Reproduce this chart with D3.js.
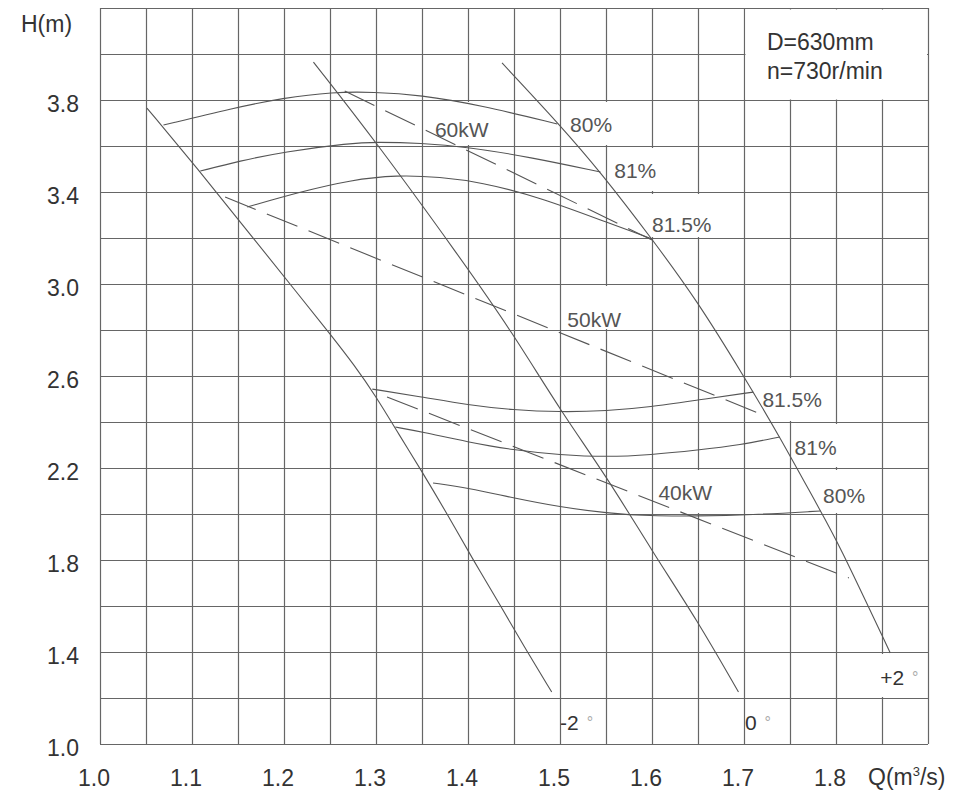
<!DOCTYPE html>
<html>
<head>
<meta charset="utf-8">
<script src="https://cdn.jsdelivr.net/npm/d3@7"></script>
<style>
  body { margin: 0; background: #fff; }
  text { font-family: "Liberation Sans", Arial, sans-serif; }
</style>
</head>
<body>
<svg id="chart" width="954" height="796"></svg>
<script>
// ---------------- data ----------------
const xTicks = [1.0, 1.1, 1.2, 1.3, 1.4, 1.5, 1.6, 1.7, 1.8];
const yTicks = [1.0, 1.4, 1.8, 2.2, 2.6, 3.0, 3.4, 3.8];
const xAxisTitle = "Q(m";
const yAxisTitle = "H(m)";
const noteLines = ["D=630mm", "n=730r/min"];

// blade-angle H-Q curves [Q, H]
const angleNames = ["-2", "0", "+2"];
const angleMinus2 = [[1.051,3.765],[1.109,3.487],[1.163,3.217],[1.217,2.948],[1.250,2.783],[1.277,2.644],[1.299,2.517],[1.326,2.339],[1.349,2.191],[1.378,1.996],[1.405,1.804],[1.435,1.604],[1.460,1.430],[1.491,1.226]];
const angleZero   = [[1.232,3.965],[1.301,3.613],[1.391,3.117],[1.448,2.791],[1.500,2.452],[1.551,2.161],[1.600,1.839],[1.649,1.539],[1.694,1.226]];
const anglePlus2  = [[1.437,3.961],[1.500,3.691],[1.544,3.487],[1.600,3.196],[1.650,2.922],[1.699,2.604],[1.739,2.335],[1.783,2.013],[1.801,1.887],[1.859,1.396]];
const angleLabelQ = [1.500, 1.701, 1.848];
const angleLabelH = [1.061, 1.061, 1.257];

// efficiency curves [Q, H]
const effNames = ["80%", "81%", "81.5%", "81.5%", "81%", "80%"];
const eff80Upper  = [[1.069,3.691],[1.145,3.765],[1.199,3.809],[1.253,3.835],[1.297,3.835],[1.348,3.822],[1.413,3.778],[1.497,3.696]];
const eff81Upper  = [[1.109,3.491],[1.152,3.535],[1.199,3.574],[1.272,3.613],[1.301,3.617],[1.348,3.613],[1.399,3.596],[1.467,3.552],[1.544,3.487]];
const eff815Upper = [[1.160,3.335],[1.217,3.400],[1.272,3.452],[1.323,3.474],[1.370,3.465],[1.413,3.443],[1.478,3.378],[1.558,3.257],[1.600,3.196]];
const eff815Lower = [[1.296,2.543],[1.350,2.509],[1.400,2.474],[1.449,2.452],[1.500,2.443],[1.551,2.448],[1.598,2.465],[1.650,2.496],[1.710,2.530]];
const eff81Lower  = [[1.321,2.378],[1.350,2.357],[1.400,2.313],[1.449,2.278],[1.500,2.257],[1.551,2.248],[1.598,2.257],[1.650,2.278],[1.696,2.300],[1.739,2.335]];
const eff80Lower  = [[1.362,2.135],[1.400,2.113],[1.449,2.070],[1.500,2.030],[1.551,2.004],[1.598,1.991],[1.649,1.991],[1.707,1.996],[1.783,2.013]];
const effLabelQ = [1.511, 1.559, 1.600, 1.720, 1.755, 1.786];
const effLabelH = [3.661, 3.461, 3.226, 2.465, 2.257, 2.048];

// shaft-power lines (dashed) [Q, H]
const powerNames = ["60kW", "50kW", "40kW"];
const power60 = [[1.266,3.839],[1.600,3.191]];
const power50 = [[1.136,3.378],[1.721,2.430]];
const power40 = [[1.312,2.509],[1.814,1.722]];
const powerLabelQ = [1.364, 1.508, 1.607];
const powerLabelH = [3.639, 2.813, 2.061];

// ---------------- drawing ----------------
const svg = d3.select("#chart");
const x = d3.scaleLinear().domain([1.0, 1.9]).range([100, 928]);
const y = d3.scaleLinear().domain([1.0, 4.2]).range([744, 8]);

const gridColor = "#666";
const curveColor = "#555";
const textColor = "#333";
const labelColor = "#555";

// grid
const gGrid = svg.append("g");
const vLines = d3.range(0, 19).map(i => 1.0 + i * 0.05);
const hLines = d3.range(0, 17).map(i => 1.0 + i * 0.2);
gGrid.selectAll("line.v").data(vLines).join("line")
  .attr("x1", d => Math.round(x(d)) + 0.5).attr("x2", d => Math.round(x(d)) + 0.5)
  .attr("y1", y(4.2)).attr("y2", y(1.0))
  .attr("stroke", gridColor).attr("stroke-width", 1.2);
gGrid.selectAll("line.h").data(hLines).join("line")
  .attr("x1", x(1.0)).attr("x2", x(1.9))
  .attr("y1", d => Math.round(y(d)) + 0.5).attr("y2", d => Math.round(y(d)) + 0.5)
  .attr("stroke", gridColor).attr("stroke-width", 1.2);

const gMask = svg.append("g");
const gCurves = svg.append("g");
const gText = svg.append("g");

// helper: white mask under a label spanning its grid row
function maskFor(node, padX) {
  const b = node.getBBox();
  const cy = b.y + b.height / 2;
  const hVal = y.invert(cy);
  const top = y(Math.ceil((hVal - 1.0) / 0.2) * 0.2 + 1.0);
  const bot = y(Math.floor((hVal - 1.0) / 0.2) * 0.2 + 1.0);
  gMask.append("rect")
    .attr("x", b.x - padX).attr("width", b.width + 2 * padX)
    .attr("y", top + 2).attr("height", bot - top - 3)
    .attr("fill", "#fff");
}

// annotation box mask
gMask.append("rect")
  .attr("x", x(1.7) + 1.5).attr("y", y(4.2) + 1.5)
  .attr("width", x(1.9) - x(1.7) - 2.5).attr("height", y(3.8) - y(4.2) - 2)
  .attr("fill", "#fff");

const smooth = d3.line().x(d => x(d[0])).y(d => y(d[1])).curve(d3.curveBasis);
const straight = d3.line().x(d => x(d[0])).y(d => y(d[1]));

// blade-angle curves
[angleMinus2, angleZero, anglePlus2].forEach(c => {
  gCurves.append("path").attr("d", smooth(c)).attr("fill", "none")
    .attr("stroke", curveColor).attr("stroke-width", 1.1);
});
// efficiency curves
[eff80Upper, eff81Upper, eff815Upper, eff815Lower, eff81Lower, eff80Lower].forEach(c => {
  gCurves.append("path").attr("d", smooth(c)).attr("fill", "none")
    .attr("stroke", curveColor).attr("stroke-width", 1.1);
});
// power lines
[power60, power50, power40].forEach(c => {
  gCurves.append("path").attr("d", straight(c)).attr("fill", "none")
    .attr("stroke", curveColor).attr("stroke-width", 1.1)
    .attr("stroke-dasharray", "33,12");
});

// efficiency labels
effNames.forEach((t, i) => {
  const n = gText.append("text").attr("x", x(effLabelQ[i])).attr("y", y(effLabelH[i]))
    .attr("font-size", 21).attr("fill", labelColor).text(t).node();
  maskFor(n, 2);
});
// power labels
powerNames.forEach((t, i) => {
  const n = gText.append("text").attr("x", x(powerLabelQ[i])).attr("y", y(powerLabelH[i]))
    .attr("font-size", 21).attr("fill", labelColor).text(t).node();
  maskFor(n, 2);
});
// angle labels
angleNames.forEach((t, i) => {
  const tx = gText.append("text").attr("x", x(angleLabelQ[i])).attr("y", y(angleLabelH[i]))
    .attr("font-size", 21).attr("fill", textColor).text(t);
  const b = tx.node().getBBox();
  gText.append("text").attr("x", b.x + b.width + 8).attr("y", y(angleLabelH[i]) - 2)
    .attr("font-size", 16).attr("fill", "#aaa").text("°");
  if (i === 2) maskFor(tx.node(), 1);
});

// tick labels
gText.selectAll("text.xt").data(xTicks).join("text")
  .attr("x", d => x(d) - 6).attr("y", 786)
  .attr("text-anchor", "middle").attr("font-size", 23).attr("fill", textColor)
  .text(d => d.toFixed(1));
gText.selectAll("text.yt").data(yTicks).join("text")
  .attr("x", 79).attr("y", d => y(d) + 6)
  .attr("text-anchor", "end").attr("dominant-baseline", "middle")
  .attr("font-size", 23).attr("fill", textColor)
  .text(d => d.toFixed(1));

// axis titles
gText.append("text").attr("x", 21).attr("y", 32).attr("font-size", 23).attr("fill", textColor).text(yAxisTitle);
const qt = gText.append("text").attr("x", 868).attr("y", 785).attr("font-size", 23).attr("fill", textColor);
qt.append("tspan").text(xAxisTitle);
qt.append("tspan").attr("font-size", 13).attr("dy", -9).text("3");
qt.append("tspan").attr("dy", 9).text("/s)");

// note
noteLines.forEach((t, i) => {
  gText.append("text").attr("x", 767).attr("y", 50 + i * 29)
    .attr("font-size", 23).attr("fill", textColor).text(t);
});
</script>
</body>
</html>
